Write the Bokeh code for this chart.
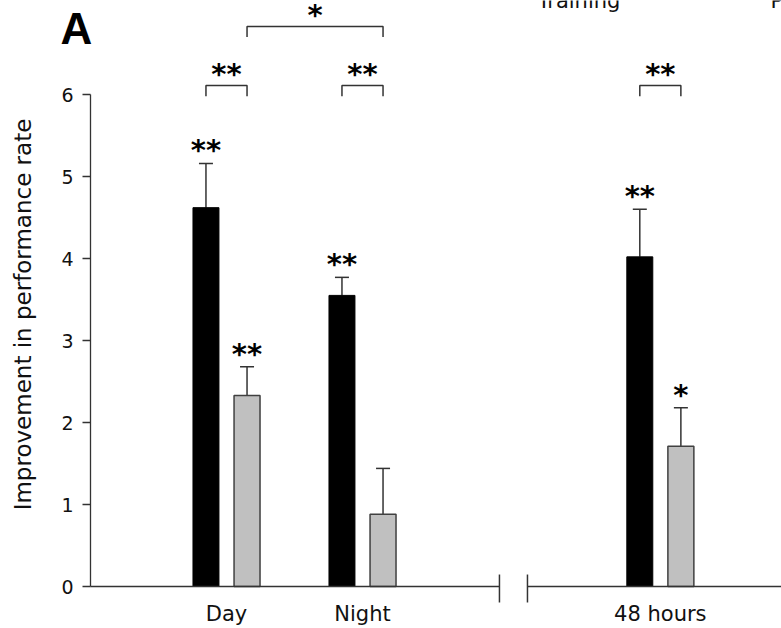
from bokeh.plotting import figure
from bokeh.models import Range1d, ColumnDataSource, Whisker, TeeHead, FixedTicker
from bokeh.core.properties import value
from bokeh.embed import file_html
from bokeh.resources import INLINE

# ---- data ----
groups = ["Day", "Night", "48 hours"]
group_x = [1.0, 2.0, 4.19]
black_vals = [4.62, 3.55, 4.02]
black_upper = [5.16, 3.77, 4.60]
gray_vals = [2.33, 0.88, 1.71]
gray_upper = [2.68, 1.44, 2.18]
black_sig = ["**", "**", "**"]
gray_sig = ["**", "", "*"]
pair_sig = ["**", "**", "**"]
cross_sig = "*"
y_ticks = [0, 1, 2, 3, 4, 5, 6]
y_axis_span = [0, 6]
axis_break = [3.007, 3.213]
panel_letter = "A"
top_texts = ["Training", "P"]
top_text_x = [3.287, 5.0]

# ---- layout constants ----
W, H = 781, 628
AXIS_X = 90
PX_X = 136.0
PX_Y = 82.0
ZERO_Y = 586
off = 0.151
bar_w = 0.191
pair_h = 6.11
top_h = 6.83
leg = 0.13
FONT = "DejaVu Sans"
DARK = "#333333"

x_start = -AXIS_X / PX_X
x_end = (W - AXIS_X) / PX_X
y_end = ZERO_Y / PX_Y
y_start = -(H - ZERO_Y) / PX_Y

p = figure(width=W, height=H, output_backend="svg", toolbar_location=None,
           x_range=Range1d(x_start, x_end), y_range=Range1d(y_start, y_end),
           min_border_left=0, min_border_right=0, min_border_top=0,
           min_border_bottom=0)
p.outline_line_color = None
p.xgrid.visible = False
p.ygrid.visible = False
p.xaxis.visible = False
p.background_fill_color = "white"
p.border_fill_color = "white"

ya = p.yaxis[0]
ya.fixed_location = 0
ya.ticker = FixedTicker(ticks=y_ticks)
ya.major_tick_in = 0
ya.major_tick_out = 8
ya.minor_tick_line_color = None
ya.axis_line_color = None
ya.major_tick_line_color = DARK
ya.major_tick_line_width = 1.3
ya.major_label_text_font = FONT
ya.major_label_text_font_size = "19px"
ya.major_label_text_color = "#111111"
ya.major_label_standoff = 9
ya.axis_label = "Improvement in performance rate"
ya.axis_label_text_font = FONT
ya.axis_label_text_font_size = "23px"
ya.axis_label_text_font_style = "normal"
ya.axis_label_text_color = "#111111"
ya.axis_label_standoff = 22

# y axis line (0..6)
p.segment(x0=[0], y0=[y_axis_span[0]], x1=[0], y1=[y_axis_span[1]],
          line_color=DARK, line_width=1.3)

bx = [g - off for g in group_x]
gx = [g + off for g in group_x]

src_b = ColumnDataSource(dict(x=bx, top=black_vals, upper=black_upper, sig=black_sig))
src_g = ColumnDataSource(dict(x=gx, top=gray_vals, upper=gray_upper, sig=gray_sig))

for src in (src_b, src_g):
    w = Whisker(base="x", lower="top", upper="upper", source=src,
                line_color=DARK, line_width=1.5, lower_head=None,
                upper_head=TeeHead(size=14, line_color=DARK, line_width=1.5))
    p.add_layout(w)

p.vbar(x="x", top="top", width=bar_w, source=src_b, fill_color="black", line_color="black")
p.vbar(x="x", top="top", width=bar_w, source=src_g, fill_color="#c0c0c0",
       line_color="#404040", line_width=1.5)

STAR_FONT = dict(text_font=value(FONT), text_font_style="bold",
                 text_font_size="29px", text_color="black")

for src in (src_b, src_g):
    p.text(x="x", y="upper", text="sig", source=src, text_align="center",
           text_baseline="alphabetic", y_offset=-13, **STAR_FONT)

# x axis line with break
p.segment(x0=[0, axis_break[1]], y0=[0, 0], x1=[axis_break[0], x_end], y1=[0, 0],
          line_color=DARK, line_width=1.3)
p.segment(x0=axis_break, y0=[-0.195, -0.195], x1=axis_break, y1=[0.146, 0.146],
          line_color=DARK, line_width=1.5)

# group labels
p.text(x=group_x, y=[0, 0, 0], text=groups, text_align="center", text_baseline="alphabetic",
       y_offset=27, text_font=value(FONT), text_font_size="21px", text_color="#111111")

# significance brackets
xs, ys = [], []
for b, g in zip(bx, gx):
    xs.append([b, b, g, g])
    ys.append([pair_h - leg, pair_h, pair_h, pair_h - leg])
xs.append([gx[0], gx[0], gx[1], gx[1]])
ys.append([top_h - leg, top_h, top_h, top_h - leg])
p.multi_line(xs=xs, ys=ys, line_color=DARK, line_width=1.5)

p.text(x=[(b + g) / 2 for b, g in zip(bx, gx)], y=[pair_h] * 3, text=pair_sig,
       text_align="center", text_baseline="alphabetic", y_offset=-11, **STAR_FONT)
p.text(x=[(gx[0] + gx[1]) / 2], y=[top_h], text=[cross_sig],
       text_align="center", text_baseline="alphabetic", y_offset=-11, **STAR_FONT)

# panel letter
p.text(x=[-0.22], y=[6.805], text=[panel_letter], text_align="left",
       text_baseline="alphabetic", text_font=value("Liberation Sans"),
       text_font_style="bold", text_font_size="44px", text_color="black")

# cut-off titles of neighbouring panels at the top edge
p.text(x=top_text_x, y=[7.135, 7.135], text=top_texts, text_align="left",
       text_baseline="alphabetic", text_font=value(FONT), text_font_size="21px",
       text_color="#111111")

open("out.html", "w").write(file_html(p, INLINE))
